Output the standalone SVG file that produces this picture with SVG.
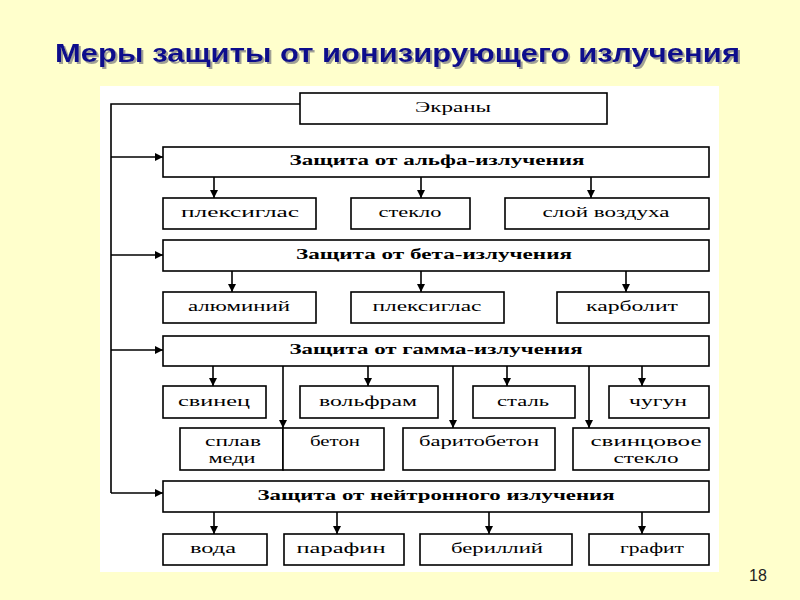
<svg xmlns="http://www.w3.org/2000/svg" width="800" height="600" viewBox="0 0 800 600">
<defs>
<marker id="ah" markerUnits="userSpaceOnUse" markerWidth="9" markerHeight="8" refX="8" refY="4" orient="auto">
<path d="M0,0 L8,4 L0,8 Z" fill="#000"/>
</marker>
<filter id="sh" x="-5%" y="-30%" width="110%" height="160%">
<feDropShadow dx="2" dy="2" stdDeviation="0.5" flood-color="#888" flood-opacity="0.8"/>
</filter>
<style>
.box{fill:#fff;stroke:#000;stroke-width:1.6}
.t{font-family:"Liberation Serif","Times New Roman",serif;font-size:15px;fill:#000;text-anchor:middle}
.h{font-family:"Liberation Serif","Times New Roman",serif;font-size:15px;font-weight:bold;fill:#000;text-anchor:middle}
.c{stroke:#000;stroke-width:1.6;fill:none}
.a{stroke:#000;stroke-width:1.6;fill:none;marker-end:url(#ah)}
.title{font-family:"Liberation Sans",Arial,sans-serif;font-size:26px;font-weight:bold}
</style>
</defs>
<rect x="0" y="0" width="800" height="600" fill="#FFFFCC"/>
<text class="title" x="55" y="62" fill="#0c0c8c" filter="url(#sh)" textLength="685" lengthAdjust="spacingAndGlyphs">Меры защиты от ионизирующего излучения</text>
<rect x="100" y="86" width="619" height="486" fill="#fff"/>

<g id="connectors">
<path class="c" d="M300,104 H111 V493"/>
<path class="a" d="M111,157 H163"/>
<path class="a" d="M111,255 H163"/>
<path class="a" d="M111,350 H163"/>
<path class="a" d="M111,493 H163"/>
<path class="a" d="M214,177 V198"/>
<path class="a" d="M421,177 V198"/>
<path class="a" d="M591,177 V198"/>
<path class="a" d="M232,271 V292"/>
<path class="a" d="M421,271 V292"/>
<path class="a" d="M626,271 V292"/>
<path class="a" d="M213,366 V386"/>
<path class="a" d="M368,366 V386"/>
<path class="a" d="M507,366 V386"/>
<path class="a" d="M642,366 V386"/>
<path class="a" d="M283,366 V428"/>
<path class="a" d="M453,366 V428"/>
<path class="a" d="M589,366 V428"/>
<path class="a" d="M214,512 V534"/>
<path class="a" d="M337,512 V534"/>
<path class="a" d="M489,512 V534"/>
<path class="a" d="M642,512 V534"/>
</g>

<g id="ekrany"><rect class="box" x="300" y="93" width="307" height="31"/><text class="t" x="453" y="112" textLength="76" lengthAdjust="spacingAndGlyphs">Экраны</text></g>

<g id="alpha"><rect class="box" x="163" y="147" width="546" height="30"/><text class="h" x="437" y="165" textLength="295" lengthAdjust="spacingAndGlyphs">Защита от альфа-излучения</text></g>
<g id="alpha-plexi"><rect class="box" x="163" y="198" width="153" height="31"/><text class="t" x="240" y="217" textLength="118" lengthAdjust="spacingAndGlyphs">плексиглас</text></g>
<g id="alpha-glass"><rect class="box" x="351" y="198" width="119" height="31"/><text class="t" x="410" y="217" textLength="63" lengthAdjust="spacingAndGlyphs">стекло</text></g>
<g id="alpha-air"><rect class="box" x="505" y="198" width="204" height="31"/><text class="t" x="606" y="217" textLength="127" lengthAdjust="spacingAndGlyphs">слой воздуха</text></g>

<g id="beta"><rect class="box" x="163" y="240" width="546" height="31"/><text class="h" x="434" y="259" textLength="276" lengthAdjust="spacingAndGlyphs">Защита от бета-излучения</text></g>
<g id="beta-al"><rect class="box" x="163" y="292" width="153" height="31"/><text class="t" x="239" y="311" textLength="102" lengthAdjust="spacingAndGlyphs">алюминий</text></g>
<g id="beta-plexi"><rect class="box" x="351" y="292" width="153" height="31"/><text class="t" x="427" y="311" textLength="109" lengthAdjust="spacingAndGlyphs">плексиглас</text></g>
<g id="beta-karb"><rect class="box" x="557" y="292" width="152" height="31"/><text class="t" x="632" y="311" textLength="92" lengthAdjust="spacingAndGlyphs">карболит</text></g>

<g id="gamma"><rect class="box" x="163" y="336" width="546" height="30"/><text class="h" x="436" y="354" textLength="293" lengthAdjust="spacingAndGlyphs">Защита от гамма-излучения</text></g>
<g id="gamma-pb"><rect class="box" x="163" y="386" width="103" height="32"/><text class="t" x="214" y="406" textLength="72" lengthAdjust="spacingAndGlyphs">свинец</text></g>
<g id="gamma-w"><rect class="box" x="300" y="386" width="138" height="32"/><text class="t" x="368" y="406" textLength="98" lengthAdjust="spacingAndGlyphs">вольфрам</text></g>
<g id="gamma-steel"><rect class="box" x="473" y="386" width="102" height="32"/><text class="t" x="523" y="406" textLength="52" lengthAdjust="spacingAndGlyphs">сталь</text></g>
<g id="gamma-iron"><rect class="box" x="609" y="386" width="100" height="32"/><text class="t" x="658" y="406" textLength="58" lengthAdjust="spacingAndGlyphs">чугун</text></g>
<g id="gamma-cu"><rect class="box" x="180" y="428" width="103" height="42"/><text class="t" x="233" y="446" textLength="56" lengthAdjust="spacingAndGlyphs">сплав</text><text class="t" x="232" y="463" textLength="47" lengthAdjust="spacingAndGlyphs">меди</text></g>
<g id="gamma-beton"><rect class="box" x="283" y="428" width="101" height="42"/><text class="t" x="335" y="446" textLength="50" lengthAdjust="spacingAndGlyphs">бетон</text></g>
<g id="gamma-bariton"><rect class="box" x="403" y="428" width="152" height="42"/><text class="t" x="479" y="446" textLength="120" lengthAdjust="spacingAndGlyphs">баритобетон</text></g>
<g id="gamma-pbglass"><rect class="box" x="573" y="428" width="136" height="42"/><text class="t" x="646" y="446" textLength="111" lengthAdjust="spacingAndGlyphs">свинцовое</text><text class="t" x="646" y="463" textLength="65" lengthAdjust="spacingAndGlyphs">стекло</text></g>

<g id="neutron"><rect class="box" x="163" y="481" width="546" height="31"/><text class="h" x="436" y="500" textLength="357" lengthAdjust="spacingAndGlyphs">Защита от нейтронного излучения</text></g>
<g id="n-water"><rect class="box" x="163" y="534" width="104" height="31"/><text class="t" x="213" y="553" textLength="46" lengthAdjust="spacingAndGlyphs">вода</text></g>
<g id="n-paraffin"><rect class="box" x="284" y="534" width="120" height="31"/><text class="t" x="341" y="553" textLength="89" lengthAdjust="spacingAndGlyphs">парафин</text></g>
<g id="n-be"><rect class="box" x="420" y="534" width="152" height="31"/><text class="t" x="497" y="553" textLength="92" lengthAdjust="spacingAndGlyphs">бериллий</text></g>
<g id="n-graphite"><rect class="box" x="589" y="534" width="120" height="31"/><text class="t" x="652" y="553" textLength="64" lengthAdjust="spacingAndGlyphs">графит</text></g>

<text x="758" y="581" font-family="Liberation Sans,Arial,sans-serif" font-size="16" fill="#222" text-anchor="middle">18</text>
</svg>
